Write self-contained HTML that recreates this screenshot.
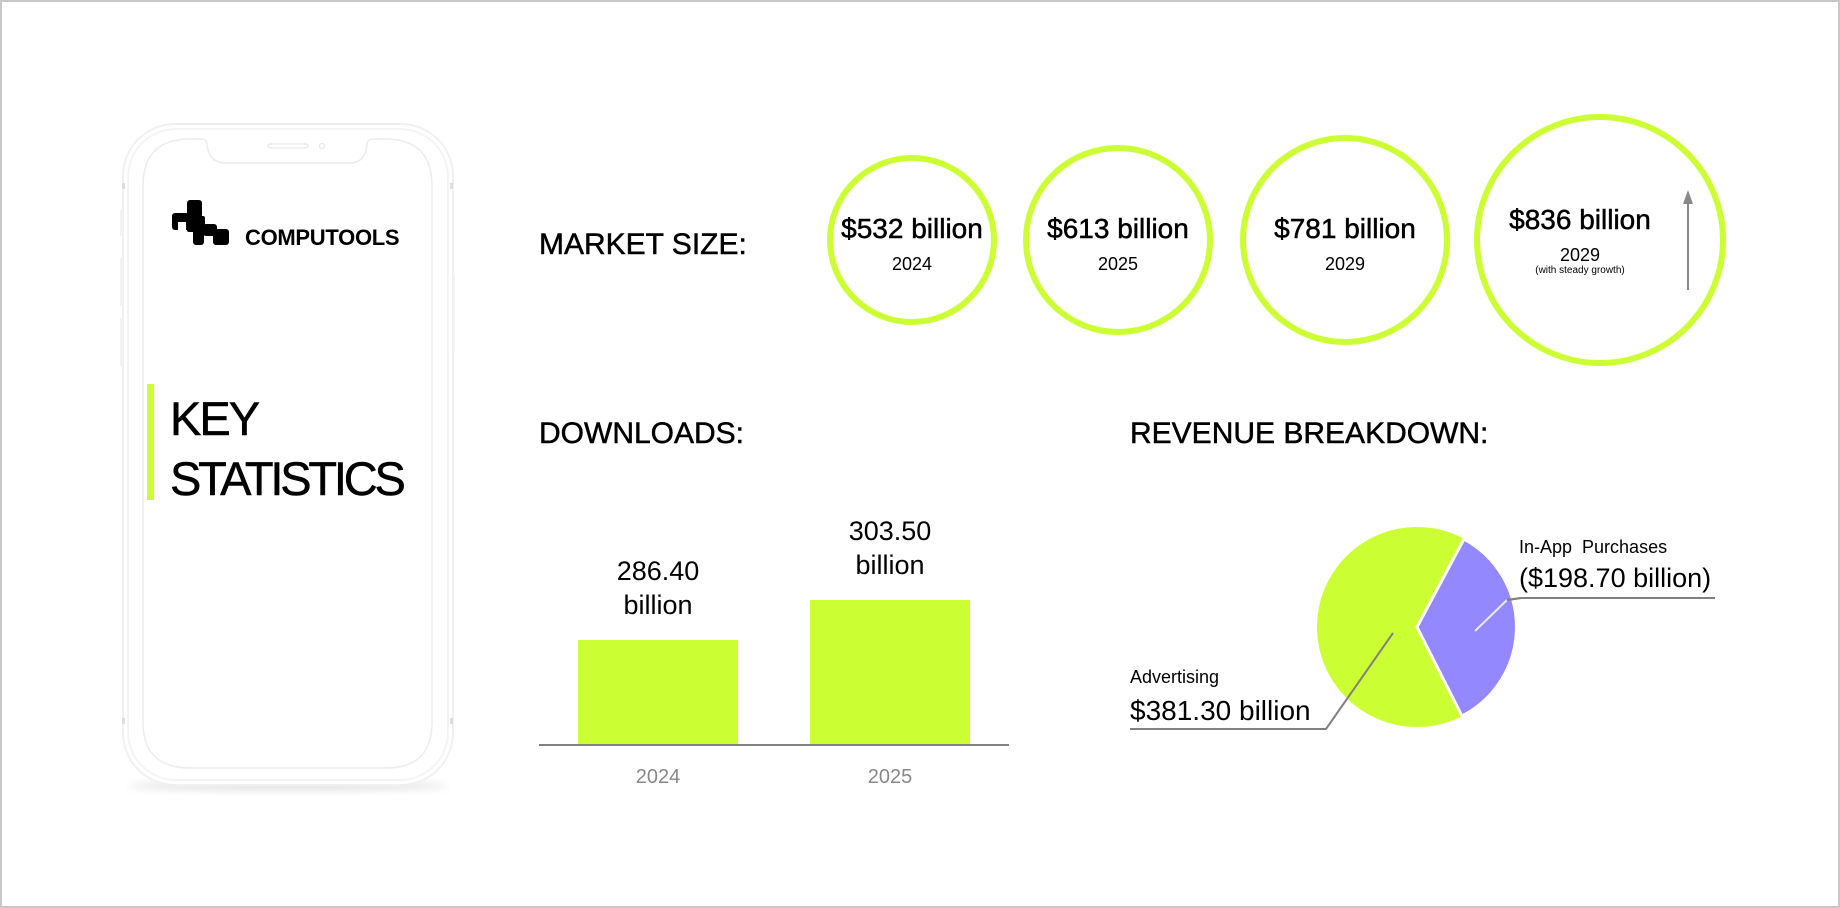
<!DOCTYPE html>
<html><head><meta charset="utf-8"><style>
html,body{margin:0;padding:0;background:#fff;}
body{width:1840px;height:908px;position:relative;overflow:hidden;font-family:"Liberation Sans",sans-serif;color:#000;}
.frame{position:absolute;left:0;top:0;width:1836px;height:904px;border:2px solid #c8c8c8;}
.t{position:absolute;white-space:nowrap;line-height:1;}
.m{-webkit-text-stroke:0.5px #000;}
</style></head><body>
<div class="frame"></div>
<svg width="1840" height="908" style="position:absolute;left:0;top:0">
  <defs>
    <filter id="sh" x="-20%" y="-20%" width="140%" height="160%"><feGaussianBlur stdDeviation="4"/></filter>
  </defs>
  <ellipse cx="288" cy="786" rx="160" ry="5" fill="#e4e4e4" filter="url(#sh)"/>
  <rect x="123" y="124" width="330" height="661" rx="52" fill="#fff" stroke="#f0f0f0" stroke-width="2"/>
  <rect x="128" y="129" width="320" height="651" rx="48" fill="none" stroke="#f4f4f4" stroke-width="2"/>
  <path d="M190 139 L202 139 Q207 139 207 145 Q209 163 226 163 L350 163 Q365 163 367 145 Q367 139 373 139 L385 139 Q432 139 432 186 L432 722 Q432 768 386 768 L190 768 Q143 768 143 722 L143 186 Q143 139 190 139 Z" fill="#fff" stroke="#ececec" stroke-width="1.5"/>
  <rect x="268" y="144" width="40" height="4" rx="2" fill="none" stroke="#e2e2e2" stroke-width="1"/>
  <circle cx="322" cy="146" r="2.5" fill="none" stroke="#e2e2e2"/>
  <rect x="122" y="183" width="3" height="6" fill="#ddd"/>
  <rect x="450" y="183" width="3" height="6" fill="#ddd"/>
  <rect x="122" y="718" width="3" height="6" fill="#ddd"/>
  <rect x="450" y="718" width="3" height="6" fill="#ddd"/>
  <rect x="120" y="210" width="3" height="26" fill="#f2f2f2"/>
  <rect x="120" y="258" width="3" height="48" fill="#f2f2f2"/>
  <rect x="120" y="318" width="3" height="48" fill="#f2f2f2"/>
  <rect x="452" y="275" width="3" height="76" fill="#f2f2f2"/>
  <g fill="#000">
    <rect x="187" y="200" width="15" height="18" rx="3"/>
    <rect x="172" y="213" width="17" height="17" rx="3"/>
    <rect x="187" y="216" width="18" height="16" rx="2"/>
    <rect x="193" y="222" width="11" height="23" rx="3"/>
    <rect x="203" y="224" width="14" height="12" rx="3"/>
    <rect x="213" y="229" width="16" height="16" rx="3"/>
    <rect x="178" y="222" width="8" height="8" fill="#fff"/>
  </g>
  <rect x="147" y="384" width="7" height="116" fill="#ccff33"/>
  <g fill="none" stroke="#ccff33" stroke-width="6">
    <circle cx="912" cy="240" r="82"/>
    <circle cx="1118" cy="240" r="92"/>
    <circle cx="1345" cy="240" r="102"/>
    <circle cx="1600" cy="240" r="123"/>
  </g>
  <line x1="1688" y1="290" x2="1688" y2="200" stroke="#888" stroke-width="2"/>
  <polygon points="1683,204 1693,204 1688,190" fill="#888"/>
  <rect x="578" y="640" width="160" height="105" fill="#ccff33"/>
  <rect x="810" y="600" width="160" height="145" fill="#ccff33"/>
  <line x1="539" y1="745" x2="1009" y2="745" stroke="#808080" stroke-width="2"/>
  <circle cx="1417" cy="627" r="100" fill="#ccff33"/>
  <path d="M1417 627 L1464 539 A100 100 0 0 1 1462 716 Z" fill="#9488ff" stroke="#fff" stroke-width="3" stroke-linejoin="round"/>
  <line x1="1475" y1="631" x2="1507" y2="600" stroke="#e8e8ff" stroke-width="2"/>
  <polyline points="1507,600 1521,598 1715,598" fill="none" stroke="#808080" stroke-width="2"/>
  <line x1="1507" y1="600" x2="1521" y2="598" stroke="#808080" stroke-width="2"/>
  <polyline points="1393,633 1326,729 1130,729" fill="none" stroke="#808080" stroke-width="2"/>
</svg>

<div class="t" style="left:245px;top:227px;font-size:22px;font-weight:bold;letter-spacing:-0.3px">COMPUTOOLS</div>
<div class="t m" style="left:170px;top:395px;font-size:47px;letter-spacing:-2px">KEY</div>
<div class="t m" style="left:170px;top:455px;font-size:47px;letter-spacing:-3.2px">STATISTICS</div>

<div class="t m" style="left:539px;top:230px;font-size:30px">MARKET SIZE:</div>
<div class="t m" style="left:539px;top:419px;font-size:30px">DOWNLOADS:</div>
<div class="t m" style="left:1130px;top:419px;font-size:30px">REVENUE BREAKDOWN:</div>

<div class="t m" style="left:832px;width:160px;text-align:center;top:215px;font-size:28px">$532 billion</div>
<div class="t" style="left:832px;width:160px;text-align:center;top:255px;font-size:18px">2024</div>
<div class="t m" style="left:1038px;width:160px;text-align:center;top:215px;font-size:28px">$613 billion</div>
<div class="t" style="left:1038px;width:160px;text-align:center;top:255px;font-size:18px">2025</div>
<div class="t m" style="left:1265px;width:160px;text-align:center;top:215px;font-size:28px">$781 billion</div>
<div class="t" style="left:1265px;width:160px;text-align:center;top:255px;font-size:18px">2029</div>
<div class="t m" style="left:1500px;width:160px;text-align:center;top:206px;font-size:28px">$836 billion</div>
<div class="t" style="left:1500px;width:160px;text-align:center;top:246px;font-size:18px">2029</div>
<div class="t" style="left:1500px;width:160px;text-align:center;top:266px;font-size:10px">(with steady growth)</div>

<div class="t" style="left:578px;width:160px;text-align:center;top:558px;font-size:27px">286.40</div>
<div class="t" style="left:578px;width:160px;text-align:center;top:592px;font-size:27px">billion</div>
<div class="t" style="left:810px;width:160px;text-align:center;top:518px;font-size:27px">303.50</div>
<div class="t" style="left:810px;width:160px;text-align:center;top:552px;font-size:27px">billion</div>
<div class="t" style="left:578px;width:160px;text-align:center;top:767px;font-size:20px;color:#888">2024</div>
<div class="t" style="left:810px;width:160px;text-align:center;top:767px;font-size:20px;color:#888">2025</div>

<div class="t" style="left:1519px;top:538px;font-size:18px">In-App&nbsp; Purchases</div>
<div class="t" style="left:1519px;top:565px;font-size:27px">($198.70 billion)</div>
<div class="t" style="left:1130px;top:668px;font-size:18px">Advertising</div>
<div class="t" style="left:1130px;top:697px;font-size:28px">$381.30 billion</div>
</body></html>
